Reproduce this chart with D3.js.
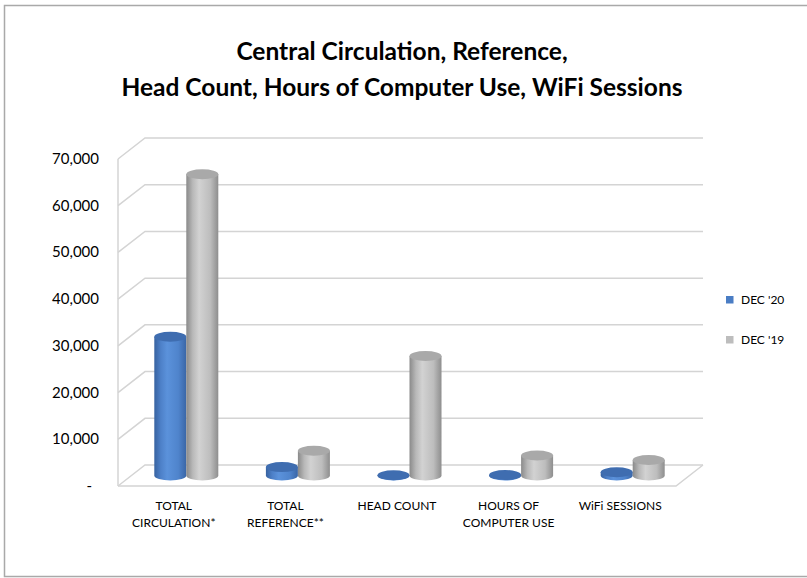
<!DOCTYPE html>
<html>
<head>
<meta charset="utf-8">
<script src="https://cdn.jsdelivr.net/npm/d3@7"></script>
<style>
  body { margin: 0; background: #fff; }
  text { font-family: Lato, "Open Sans", sans-serif; fill: #000; }
</style>
</head>
<body>
<div class="chart"></div>
<script>

// data
const categories = ["TOTAL CIRCULATION*", "TOTAL REFERENCE**", "HEAD COUNT", "HOURS OF COMPUTER USE", "WiFi SESSIONS"];
const catLines = [["TOTAL", "CIRCULATION*"], ["TOTAL", "REFERENCE**"], ["HEAD COUNT"], ["HOURS OF", "COMPUTER USE"], ["WiFi SESSIONS"]];
const dec20 = [29700, 1800, 50, 100, 700];
const dec19 = [64500, 5300, 25600, 4300, 3300];
const yTicks = [0, 10000, 20000, 30000, 40000, 50000, 60000, 70000];
const seriesNames = ["DEC '20", "DEC '19"];

const width = 807, height = 578;

// front plane of the 3d box + depth offset
const left = 118, right = 676;
const depthX = 27, depthY = -21;

const svg = d3.select('.chart')
  .append('svg')
    .attr('width', width)
    .attr('height', height);

// outer frame
svg.append('rect')
  .attr('x', 4.5).attr('y', 5.5)
  .attr('width', 840).attr('height', 571)
  .style('fill', 'none')
  .style('stroke', '#a9a9a9')
  .style('stroke-width', 1.5);

// title
const title = svg.append('text')
  .attr('text-anchor', 'middle')
  .style('font-weight', 'bold')
  .style('font-size', '24.5px');
title.append('tspan').attr('x', 402).attr('y', 60).text('Central Circulation, Reference,');
title.append('tspan').attr('x', 402).attr('y', 96).text('Head Count, Hours of Computer Use, WiFi Sessions');

const y = d3.scaleLinear().domain([0, 70000]).range([486, 159]);
const x = d3.scaleBand().domain(categories).range([left, right]);

// walls and grid
const grid = svg.append('g')
  .style('fill', 'none')
  .style('stroke', '#d4d4d4')
  .style('stroke-width', 1.5);

grid.append('line')
  .attr('x1', left).attr('x2', left)
  .attr('y1', y(0)).attr('y2', y(70000));

grid.selectAll('path.tick')
  .data(yTicks)
  .enter()
  .append('path')
    .attr('class', 'tick')
    .attr('d', function (d) {
      return `M${left},${y(d)} L${left + depthX},${y(d) + depthY} L${right + depthX},${y(d) + depthY}`;
    });

// floor
grid.append('path')
  .attr('d', `M${left},${y(0)} L${right},${y(0)} L${right + depthX},${y(0) + depthY}`);

// y labels
svg.selectAll('text.ylab')
  .data(yTicks)
  .enter()
  .append('text')
    .attr('class', 'ylab')
    .attr('x', function (d) { return d === 0 ? 92 : 99; })
    .attr('y', function (d) { return y(d) + 5; })
    .attr('text-anchor', 'end')
    .style('font-size', '15px')
    .text(function (d) { return d === 0 ? '-' : d3.format(',')(d); });

// category labels
const catText = svg.selectAll('text.cat')
  .data(categories)
  .enter()
  .append('text')
    .attr('class', 'cat')
    .attr('text-anchor', 'middle')
    .style('font-size', '12px');

catText.selectAll('tspan')
  .data(function (d, i) { return catLines[i].map(function (t) { return { t, c: d }; }); })
  .enter()
  .append('tspan')
    .attr('x', function (d) { return x(d.c) + x.bandwidth() / 2; })
    .attr('y', function (d, j) { return 510 + j * 16.5; })
    .text(function (d) { return d.t; });

// gradients for cylinders
const defs = svg.append('defs');
const palettes = [
  { id: 'gBlue', stops: ['#3762a0', '#4d80c8', '#5b92db', '#4f84cc', '#3a66a6'], top: '#3f6db0' },
  { id: 'gGray', stops: ['#8a8a8a', '#b8b8b8', '#d2d2d2', '#bdbdbd', '#8e8e8e'], top: '#a9a9a9' }
];
palettes.forEach(function (p) {
  const g = defs.append('linearGradient')
    .attr('id', p.id)
    .attr('x1', 0).attr('x2', 1).attr('y1', 0).attr('y2', 0);
  g.selectAll('stop')
    .data(p.stops)
    .enter()
    .append('stop')
      .attr('offset', function (d, i) { return [0, 0.2, 0.4, 0.75, 1][i]; })
      .attr('stop-color', function (d) { return d; });
});

// bars as cylinders, sitting at mid depth
const barW = 32, ry = 5;
const midX = depthX / 2, midY = depthY / 2;
const bars = [];
categories.forEach(function (c, i) {
  const cx = x(c) + x.bandwidth() / 2 + midX;
  bars.push({ cx: cx - barW / 2 - 1, v: dec20[i], p: palettes[0] });
  bars.push({ cx: cx + barW / 2 - 1, v: dec19[i], p: palettes[1] });
});

const rx = barW / 2;
const cyl = svg.selectAll('g.bar')
  .data(bars)
  .enter()
  .append('g')
    .attr('class', 'bar');

cyl.append('path')
  .attr('d', function (d) {
    const yb = y(0) + midY, yt = y(d.v) + midY;
    return `M${d.cx - rx},${yt} L${d.cx - rx},${yb} A${rx},${ry} 0 0 0 ${d.cx + rx},${yb} L${d.cx + rx},${yt} Z`;
  })
  .style('fill', function (d) { return `url(#${d.p.id})`; });

cyl.append('ellipse')
  .attr('cx', function (d) { return d.cx; })
  .attr('cy', function (d) { return y(d.v) + midY; })
  .attr('rx', rx)
  .attr('ry', ry)
  .style('fill', function (d) { return d.p.top; });

// legend
const legend = svg.selectAll('g.legend')
  .data(seriesNames)
  .enter()
  .append('g')
    .attr('class', 'legend')
    .attr('transform', function (d, i) { return `translate(726, ${296 + i * 40})`; });

legend.append('rect')
  .attr('width', 7.5).attr('height', 7.5)
  .style('fill', function (d, i) { return i === 0 ? '#4a7dc4' : '#bdbdbd'; });

legend.append('text')
  .attr('x', 15).attr('y', 8)
  .style('font-size', '12px')
  .text(function (d) { return d; });

</script>
</body>
</html>
